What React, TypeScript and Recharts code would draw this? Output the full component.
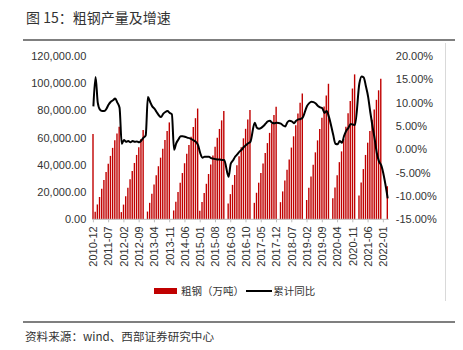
import React from 'react';
import { ComposedChart, Bar, Line, XAxis, YAxis } from 'recharts';

// Cumulative crude steel output (万吨), 2010-12 .. 2022-03, one row per year
const steelOutput: (number | null)[] = [
  62665,
  5600, 10900, 16400, 22500, 28900, 34800, 40800, 46600, 52500, 58000, 63000, 68000,
  5300, 10800, 17000, 23200, 29400, 35500, 41400, 47300, 53000, 59000, 65600, null,
  5700, 12100, 18800, 25500, 32300, 39000, 45300, 51800, 58200, 64800, 71200, null,
  6500, 12900, 20000, 26800, 34000, 41200, 48200, 54600, 60700, 67800, 74300, 81400,
  6200, 12700, 19300, 26100, 33300, 40200, 46900, 53400, 59900, 66400, 72700, 79600,
  null, 11600, 18500, 25300, 32500, 39700, 46300, 52900, 59500, 66500, 73300, 80300,
  null, 12100, 19500, 26900, 34000, 41000, 48700, 56000, 63500, 70400, 76600, 82700,
  null, 12600, 20500, 28600, 36500, 44000, 52700, 61000, 69100, 77800, 85600, 92500,
  null, 14200, 23100, 31500, 40100, 49200, 58000, 66400, 74600, 82800, 90900, 99600,
  null, 15500, 23400, 32400, 42000, 49900, 59000, 68000, 78000, 87000, 96100, 106500,
  null, 17400, 27100, 36900, 47300, 56300, 64900, 73100, 80700, 87800, 94800, 103300,
  null, null, 24300,
];

// Cumulative year-on-year growth (%)
const cumulativeYoY: (number | null)[] = [
  9.2,
  15.5, 10.0, 8.5, 8.2, 8.2, 8.7, 9.6, 10.2, 10.5, 10.9, 10.0, 8.9,
  1.2, 2.0, 1.6, 1.8, 1.5, 1.8, 1.6, 1.7, 1.5, 1.9, 2.5, 3.0,
  11.2, 10.2, 9.2, 8.7, 8.0, 7.3, 6.9, 7.6, 8.0, 8.2, 7.8, 7.5,
  -0.1, 1.3, 2.1, 2.8, 2.8, 2.7, 2.5, 2.4, 2.2, 1.9, 1.6, 0.9,
  -0.8, -1.8, -1.6, -1.6, -1.6, -1.9, -2.0, -2.1, -2.2, -2.2, -2.3, -2.3,
  null, -5.9, -3.1, -2.4, -1.6, -1.1, -0.5, -0.1, 0.5, 0.9, 1.3, 1.6,
  null, 5.7, 4.6, 4.4, 4.6, 5.0, 5.5, 6.0, 6.1, 5.7, 5.6, 5.7,
  null, 5.5, 5.1, 4.9, 5.8, 6.1, 6.0, 5.6, 6.1, 6.4, 6.5, 6.8,
  null, 9.3, 9.9, 10.2, 10.1, 9.8, 9.3, 9.0, 8.8, 7.8, 8.2, 7.0,
  null, 3.1, 1.2, 1.1, 1.8, 1.4, 2.9, 4.0, 4.6, 5.4, 5.3, 5.2,
  null, 14.1, 15.6, 15.4, 13.5, 11.3, 8.0, 5.0, 2.3, -0.8, -2.6, -3.4,
  null, null, -10.5,
];

// Category labels: 2010-12 then every month to 2022-03
const firstMonth = '2010-12';
const monthYears = [2011, 2012, 2013, 2014, 2015, 2016, 2017, 2018, 2019, 2020, 2021, 2022];
const lastYearMonths = 3;
const months: string[] = [firstMonth];
monthYears.forEach((y) => {
  const n = y === 2022 ? lastYearMonths : 12;
  for (let m = 1; m <= n; m++) months.push(`${y}-${m < 10 ? '0' + m : m}`);
});

const leftTicks = [0, 20000, 40000, 60000, 80000, 100000, 120000];
const rightTicks = [-15, -10, -5, 0, 5, 10, 15, 20];

const title = '图 15：粗钢产量及增速';
const barName = '粗钢（万吨）';
const lineName = '累计同比';
const source = '资料来源：wind、西部证券研究中心';

const data = months.map((m, i) => ({ month: m, steel: steelOutput[i], yoy: cumulativeYoY[i] }));

const numFont = '"Liberation Sans", Arial, sans-serif';
const cjkFont = '"Noto Sans CJK SC", sans-serif';
const textColor = '#333333';

const fmtLeft = (v: number) =>
  v.toLocaleString('en-US', { minimumFractionDigits: 2, maximumFractionDigits: 2 });
const fmtRight = (v: number) => `${v.toFixed(2)}%`;

const XTick = (props: any) => {
  const { x, y, payload } = props;
  return (
    <text
      x={x}
      y={y}
      transform={`rotate(-90, ${x}, ${y})`}
      textAnchor="end"
      dy="0.35em"
      fontSize={11}
      fontFamily={numFont}
      fill={textColor}
    >
      {payload.value}
    </text>
  );
};

export default function App() {
  return (
    <div
      style={{
        position: 'absolute',
        left: 0,
        top: 0,
        width: 463,
        height: 350,
        background: '#fff',
        overflow: 'hidden',
      }}
    >
      <div
        style={{
          position: 'absolute',
          left: 26,
          top: 7,
          fontFamily: cjkFont,
          fontSize: 14,
          lineHeight: '20px',
          color: textColor,
          whiteSpace: 'nowrap',
        }}
      >
        {title}
      </div>
      <div style={{ position: 'absolute', left: 23, top: 39, width: 432, height: 1.5, background: '#7f7f7f' }} />
      <div style={{ position: 'absolute', left: 445, top: 43, width: 1, height: 258, background: '#d9d9d9' }} />

      <div style={{ position: 'absolute', left: 0, top: 0 }}>
        <ComposedChart
          width={463}
          height={350}
          data={data}
          margin={{ top: 56, right: 14.2, bottom: 80.7, left: 0 }}
        >
          <XAxis
            dataKey="month"
            interval={6}
            height={50}
            tickSize={3}
            tickMargin={4}
            axisLine={{ stroke: '#bfbfbf' }}
            tickLine={{ stroke: '#bfbfbf' }}
            tick={<XTick />}
          />
          <YAxis
            yAxisId="left"
            orientation="left"
            width={92.3}
            domain={[0, 120000]}
            ticks={leftTicks}
            interval={0}
            axisLine={false}
            tickLine={false}
            tickSize={4}
            tickMargin={2}
            tickFormatter={fmtLeft}
            tick={{ fontSize: 11, fill: textColor, fontFamily: numFont }}
          />
          <YAxis
            yAxisId="right"
            orientation="right"
            width={60}
            domain={[-15, 20]}
            ticks={rightTicks}
            interval={0}
            axisLine={false}
            tickLine={false}
            tickSize={5}
            tickMargin={2}
            tickFormatter={fmtRight}
            tick={{ fontSize: 11, fill: textColor, fontFamily: numFont }}
          />
          <Bar
            yAxisId="left"
            dataKey="steel"
            name={barName}
            fill="#C00000"
            barSize={1.4}
            isAnimationActive={false}
          />
          <Line
            yAxisId="right"
            dataKey="yoy"
            name={lineName}
            type="monotone"
            stroke="#000000"
            strokeWidth={2}
            dot={false}
            activeDot={false}
            connectNulls
            isAnimationActive={false}
          />
        </ComposedChart>
      </div>

      {/* legend */}
      <div style={{ position: 'absolute', left: 154, top: 288.3, width: 22.7, height: 6, background: '#C00000' }} />
      <div
        style={{
          position: 'absolute',
          left: 181,
          top: 283,
          fontFamily: cjkFont,
          fontSize: 10.5,
          lineHeight: '16px',
          color: textColor,
          whiteSpace: 'nowrap',
        }}
      >
        {barName}
      </div>
      <div style={{ position: 'absolute', left: 246, top: 290.3, width: 25.7, height: 1.6, background: '#000' }} />
      <div
        style={{
          position: 'absolute',
          left: 273.3,
          top: 283,
          fontFamily: cjkFont,
          fontSize: 10.5,
          lineHeight: '16px',
          color: textColor,
          whiteSpace: 'nowrap',
        }}
      >
        {lineName}
      </div>

      <div style={{ position: 'absolute', left: 23, top: 321, width: 432, height: 1.5, background: '#7f7f7f' }} />
      <div
        style={{
          position: 'absolute',
          left: 25,
          top: 328,
          fontFamily: cjkFont,
          fontSize: 11.6,
          lineHeight: '16px',
          color: textColor,
          whiteSpace: 'nowrap',
        }}
      >
        {source}
      </div>
    </div>
  );
}
